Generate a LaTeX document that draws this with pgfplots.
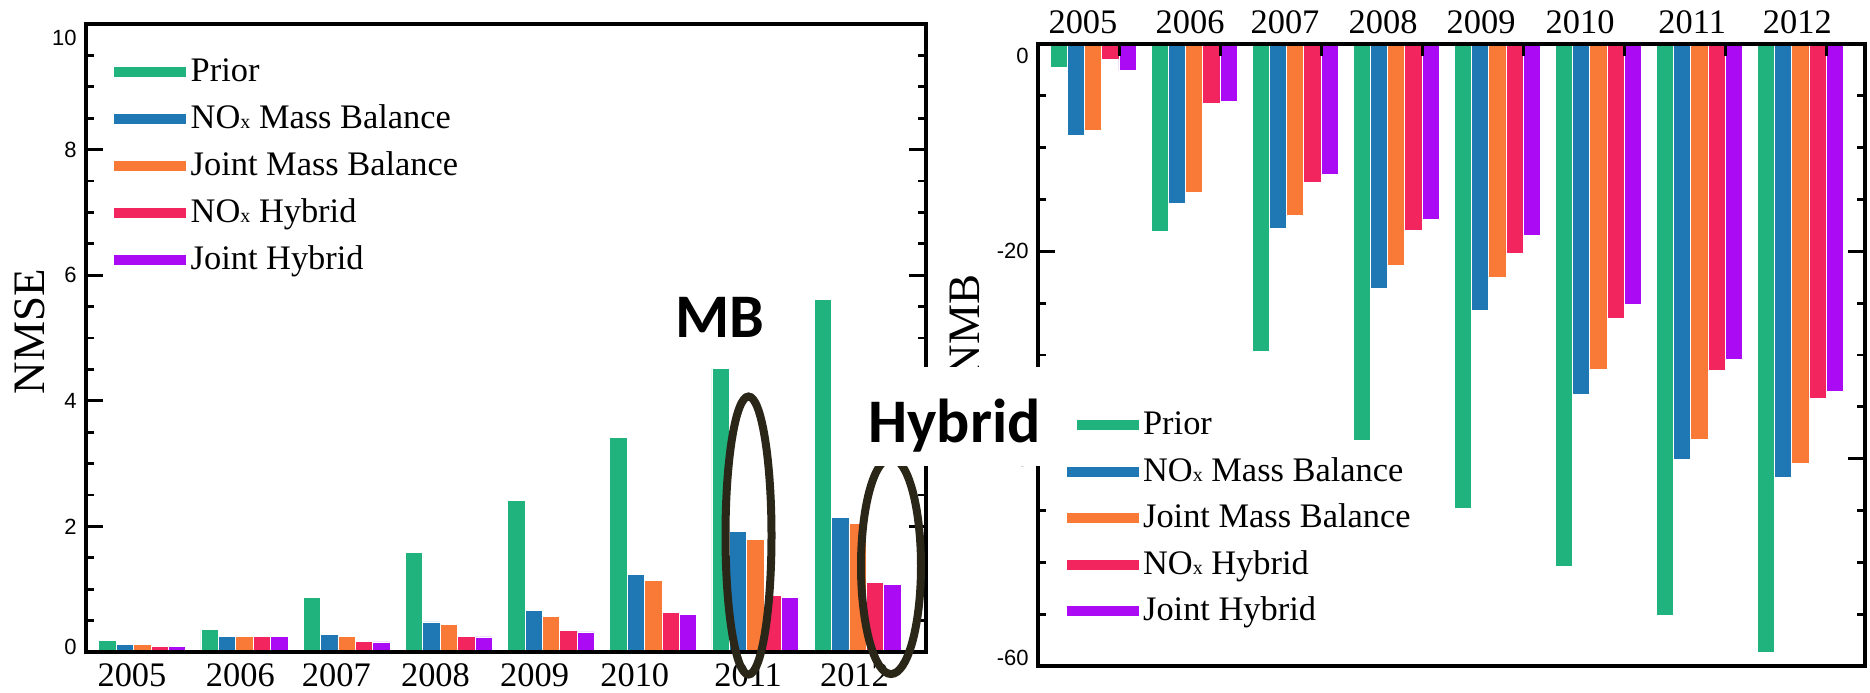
\documentclass[border=0pt]{standalone}
\usepackage{pgfplots}
\pgfplotsset{compat=1.18}
\usepackage{pgfplotstable}
\usepackage{fontspec}
\setmainfont{Liberation Serif}
\newfontfamily\arialf{Liberation Sans}
\newfontfamily\calib{Carlito}
\definecolor{cPrior}{RGB}{32,179,126}
\definecolor{cNMB}{RGB}{31,119,180}
\definecolor{cJMB}{RGB}{249,121,55}
\definecolor{cNH}{RGB}{243,37,94}
\definecolor{cJH}{RGB}{170,10,244}
\definecolor{cEll}{RGB}{42,38,24}

\pgfplotstableread{
x prior nmb jmb nh jh
0 0.19 0.12 0.12 0.095 0.095
1 0.36 0.245 0.245 0.245 0.245
2 0.875 0.28 0.25 0.17 0.16
3 1.58 0.48 0.435 0.25 0.24
4 2.42 0.66 0.57 0.34 0.32
5 3.42 1.24 1.14 0.63 0.60
6 4.52 1.92 1.79 0.90 0.875
7 5.62 2.14 2.05 1.11 1.08
}\nmse

\pgfplotstableread{
x prior nmb jmb nh jh
0 -2.2 -8.8 -8.35 -1.45 -2.55
1 -18.1 -15.4 -14.35 -5.7 -5.5
2 -29.6 -17.8 -16.5 -13.3 -12.6
3 -38.2 -23.6 -21.3 -18.0 -16.9
4 -44.8 -25.7 -22.5 -20.2 -18.45
5 -50.4 -33.8 -31.4 -26.5 -25.1
6 -55.1 -40.1 -38.1 -31.5 -30.4
7 -58.7 -41.8 -40.4 -34.2 -33.5
}\nmb

\newcommand{\NOx}{NO{\fontsize{10}{10}\selectfont x}}

\pgfplotsset{
  mybar/.style={ybar, bar width=0.17, fill=#1, draw=white, line width=0.3pt,
    legend image code/.code={\fill[#1] (0pt,-1.5pt) rectangle (35.5pt,3pt);}},
  panel/.style={
    scale only axis, axis on top,
    axis line style={line width=1.6pt, black},
    tick style={line width=1.4pt, black},
    tick align=inside,
    major tick length=8.5pt, minor tick length=4pt,
    minor y tick num=3,
    yticklabel pos=left,
    /pgf/number format/assume math mode=true,
    yticklabel style={font=\arialf\fontsize{11}{11}\selectfont, inner sep=0pt, xshift=-4.5pt},
    xticklabel style={font=\fontsize{17.2}{17.2}\selectfont, inner sep=0pt, anchor=base},
    xtick={-0.1,0.96,1.9,2.87,3.84,4.82,5.93,6.97},
    xticklabels={2005,2006,2007,2008,2009,2010,2011,2012},
    xtick style={draw=none},
    extra y tick style={major tick length=0pt},
    legend style={draw=none, fill=none, inner sep=0pt, font=\fontsize{17.2}{17.2}\selectfont,
      nodes={inner sep=0pt, text height=12pt, text depth=4pt}, column sep=2.5pt},
    legend cell align=left,
  }
}

\begin{document}
\begin{tikzpicture}
\path[use as bounding box] (0,0) rectangle (935pt,-346pt);
% Left panel: NMSE
\begin{axis}[panel, at={(43pt,-326pt)}, anchor=south west,
  width=420pt, height=314pt,
  xmin=-0.55, xmax=7.67, ymin=0, ymax=10,
  ytick={0,2,4,6,8,10},
  yticklabels={{},2,4,6,8,{}},
  extra y ticks={0.08,9.78},
  extra y tick labels={0,10},
  xticklabel style={yshift=-17pt},
  ylabel={NMSE},
  every axis y label/.style={at={(rel axis cs:-0.0667,0.51)}, rotate=90, anchor=center, font=\fontsize{22.5}{22.5}\selectfont},
  legend style={at={(rel axis cs:0.033,0.948)}, anchor=north west, row sep=7.5pt},
]
\addplot[mybar=cPrior, bar shift=-0.34] table[x=x,y=prior]{\nmse};
\addplot[mybar=cNMB, bar shift=-0.17] table[x=x,y=nmb]{\nmse};
\addplot[mybar=cJMB, bar shift=0] table[x=x,y=jmb]{\nmse};
\addplot[mybar=cNH, bar shift=0.17] table[x=x,y=nh]{\nmse};
\addplot[mybar=cJH, bar shift=0.34] table[x=x,y=jh]{\nmse};
\legend{Prior, \NOx{} Mass Balance, Joint Mass Balance, \NOx{} Hybrid, Joint Hybrid}
\end{axis}
% Right panel: NMB
\begin{axis}[panel, at={(519pt,-333pt)}, anchor=south west,
  width=413.5pt, height=311pt,
  xmin=-0.545, xmax=7.64, ymin=-60, ymax=0,
  ytick={-60,-40,-20,0},
  yticklabels={{},-40,-20,{}},
  extra y ticks={-59.2,-1.16},
  extra y tick labels={-60,0},
  xtick pos=right, xticklabel pos=right,
  xticklabel style={yshift=5.5pt},
  extra x ticks={0.26,1.26,2.26,3.26,4.26,5.26,6.26,7.26},
  extra x tick labels={},
  extra x tick style={xtick style={draw=black}, major tick length=6pt},
  ylabel={NMB},
  every axis y label/.style={at={(rel axis cs:-0.088,0.547)}, rotate=90, anchor=center, font=\fontsize{22.5}{22.5}\selectfont},
  legend style={at={(rel axis cs:0.034,0.411)}, anchor=north west, row sep=7.25pt},
]
\addplot[mybar=cPrior, bar shift=-0.34] table[x=x,y=prior]{\nmb};
\addplot[mybar=cNMB, bar shift=-0.17] table[x=x,y=nmb]{\nmb};
\addplot[mybar=cJMB, bar shift=0] table[x=x,y=jmb]{\nmb};
\addplot[mybar=cNH, bar shift=0.17] table[x=x,y=nh]{\nmb};
\addplot[mybar=cJH, bar shift=0.34] table[x=x,y=jh]{\nmb};
\legend{Prior, \NOx{} Mass Balance, Joint Mass Balance, \NOx{} Hybrid, Joint Hybrid}
\end{axis}
% annotations
\draw[cEll, line width=4pt] (374.25pt,-267.75pt) ellipse [x radius=11.5pt, y radius=69.5pt];
\draw[cEll, line width=4pt] (445.5pt,-283pt) ellipse [x radius=15pt, y radius=54pt];
\node[anchor=base west, inner sep=0pt, font=\calib\bfseries\fontsize{31}{31}\selectfont] at (337.5pt,-168.5pt) {MB};
\fill[white] (422.5pt,-183.5pt) rectangle (538.5pt,-233pt);
\node[anchor=base west, inner sep=0pt, font=\calib\bfseries\fontsize{31}{31}\selectfont] at (434pt,-221pt) {Hybrid};
\end{tikzpicture}
\end{document}
